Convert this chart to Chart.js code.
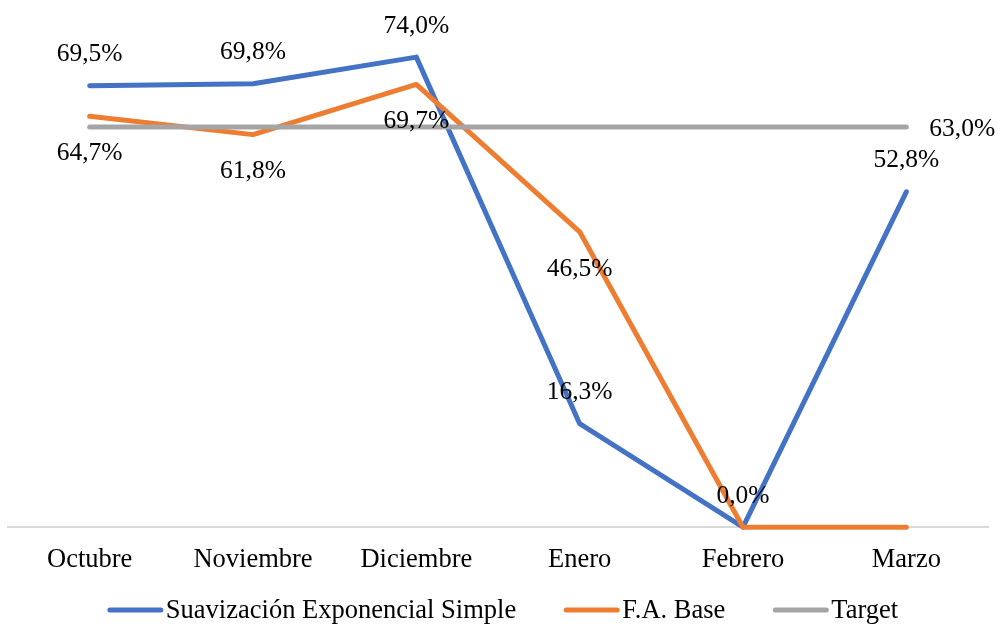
<!DOCTYPE html>
<html>
<head>
<meta charset="utf-8">
<script src="https://cdn.jsdelivr.net/npm/chart.js@4.4.1/dist/chart.umd.min.js"></script>
<style>
  html, body { margin: 0; padding: 0; background: #fff; }
  #wrap { width: 998px; height: 626px; }
</style>
</head>
<body>
<div id="wrap"><canvas id="grafico_linea"></canvas></div>
<script>
/* datos del gráfico */
const meses = ['Octubre', 'Noviembre', 'Diciembre', 'Enero', 'Febrero', 'Marzo'];
const suavizacion = [69.5, 69.8, 74.0, 16.3, 0.0, 52.8];
const fa_base = [64.7, 61.8, 69.7, 46.5, 0.0, 0.0];
const target = [63.0, 63.0, 63.0, 63.0, 63.0, 63.0];

const fuente = 'Liberation Serif, Times New Roman, serif';

// which labels each series shows and where
const etiquetas = [
    { pos: 'above', idx: [0, 1, 2, 3, 4, 5] },
    { pos: 'below', idx: [0, 1, 2, 3] },
    { pos: 'right', idx: [5] }
];

function formato(v) {
    return v.toFixed(1).replace('.', ',') + '%';
}

const plugin_etiquetas = {
    id: 'etiquetas',
    afterDatasetsDraw(chart) {
        const ctx = chart.ctx;
        ctx.save();
        ctx.font = '25.5px ' + fuente;
        ctx.fillStyle = '#000';
        chart.data.datasets.forEach((ds, i) => {
            const meta = chart.getDatasetMeta(i);
            const conf = etiquetas[i];
            conf.idx.forEach(j => {
                const p = meta.data[j];
                const txt = formato(ds.data[j]);
                if (conf.pos === 'above') {
                    ctx.textAlign = 'center'; ctx.textBaseline = 'middle';
                    ctx.fillText(txt, p.x, p.y - 31);
                } else if (conf.pos === 'below') {
                    ctx.textAlign = 'center'; ctx.textBaseline = 'middle';
                    ctx.fillText(txt, p.x, p.y + 37);
                } else {
                    ctx.textAlign = 'left'; ctx.textBaseline = 'middle';
                    ctx.fillText(txt, p.x + 23, p.y + 2);
                }
            });
        });
        ctx.restore();
    }
};

// legend like Excel: long thick line sample and text close to it
const plugin_leyenda = {
    id: 'leyenda',
    afterDraw(chart) {
        const ctx = chart.ctx;
        ctx.save();
        ctx.font = '26.5px ' + fuente;
        const muestra = 55, hueco = 3, sep = 48;
        const items = chart.data.datasets.map(ds => ({
            label: ds.label, color: ds.borderColor, w: ctx.measureText(ds.label).width
        }));
        let total = 0;
        items.forEach((it, k) => { total += muestra + hueco + it.w + (k > 0 ? sep : 0); });
        let x = (chart.width - total) / 2 + 4;
        const y = 610;
        items.forEach(it => {
            ctx.strokeStyle = it.color;
            ctx.lineWidth = 5;
            ctx.lineCap = 'round';
            ctx.beginPath();
            ctx.moveTo(x + 2, y);
            ctx.lineTo(x + muestra - 2, y);
            ctx.stroke();
            ctx.fillStyle = '#000';
            ctx.textAlign = 'left';
            ctx.textBaseline = 'middle';
            ctx.fillText(it.label, x + muestra + hueco, y + 1);
            x += muestra + hueco + it.w + sep;
        });
        ctx.restore();
    }
};

const data_linea = {
    labels: meses,
    datasets: [{
        label: 'Suavización Exponencial Simple',
        data: suavizacion,
        borderColor: '#4472C4',
        backgroundColor: '#4472C4',
        order: 3
    },
    {
        label: 'F.A. Base',
        data: fa_base,
        borderColor: '#ED7D31',
        backgroundColor: '#ED7D31',
        order: 2
    },
    {
        label: 'Target',
        data: target,
        borderColor: '#A5A5A5',
        backgroundColor: '#A5A5A5',
        order: 1
    }]
};

const config_linea = {
    type: 'line',
    data: data_linea,
    options: {
        responsive: true,
        maintainAspectRatio: false,
        animation: false,
        layout: { padding: { left: 8, right: 10, top: 19, bottom: 33 } },
        elements: {
            line: { borderWidth: 5, borderCapStyle: 'round', borderJoinStyle: 'round', tension: 0 },
            point: { radius: 0, hoverRadius: 0 }
        },
        datasets: { line: { clip: false } },
        plugins: {
            legend: { display: false },
            tooltip: { enabled: false }
        },
        scales: {
            x: {
                offset: true,
                grid: { display: false, drawTicks: false },
                border: { display: true, color: '#D9D9D9', width: 2 },
                ticks: { color: '#000', padding: 17, font: { family: fuente, size: 26.5 } }
            },
            y: {
                display: false,
                min: 0,
                max: 80
            }
        }
    },
    plugins: [plugin_etiquetas, plugin_leyenda]
};

const grafico_linea = new Chart(document.getElementById('grafico_linea'), config_linea);
</script>
</body>
</html>
